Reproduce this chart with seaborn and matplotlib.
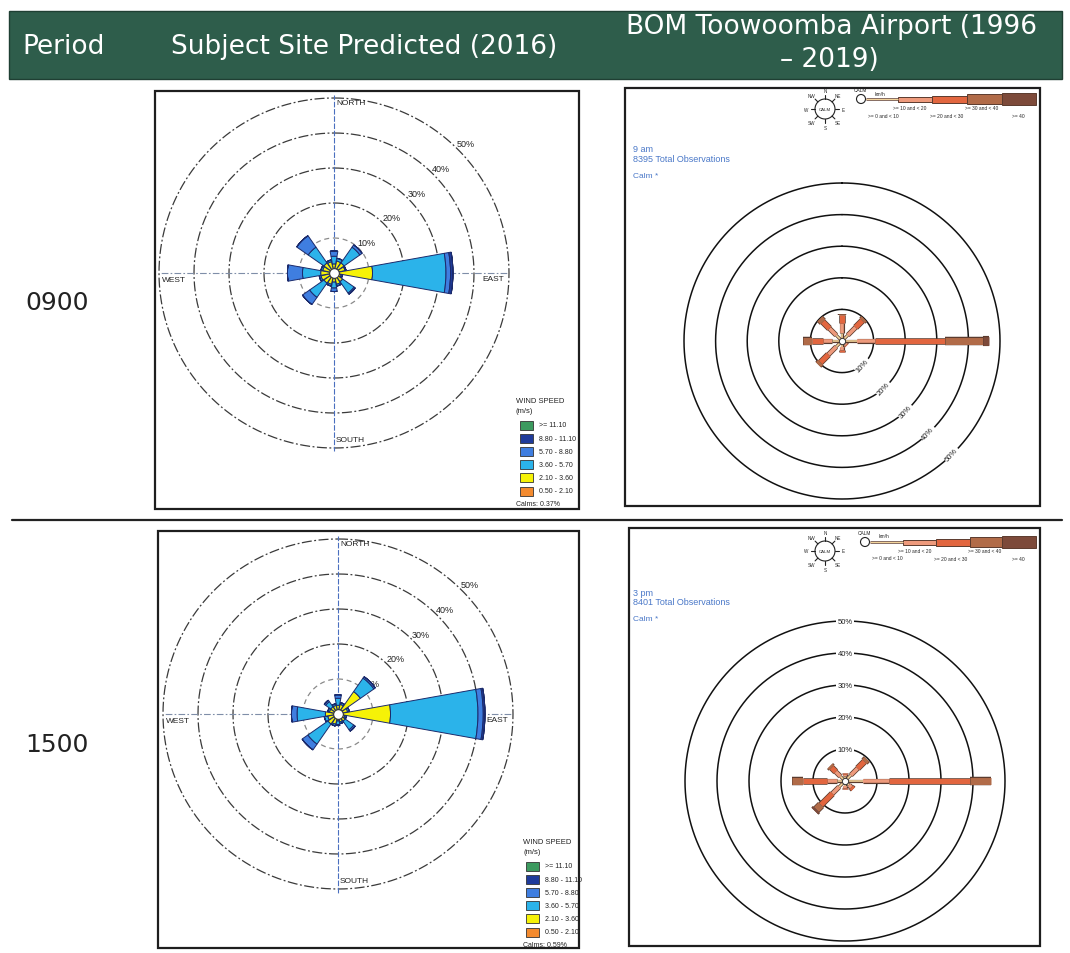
import numpy as np
import pandas as pd
import matplotlib
matplotlib.use('Agg')
import matplotlib.pyplot as plt
import matplotlib.patheffects as pe
from matplotlib.patches import Rectangle, Circle
import seaborn as sns

# ---------------- data ----------------
dirs16 = ['N', 'NNE', 'NE', 'ENE', 'E', 'ESE', 'SE', 'SSE',
          'S', 'SSW', 'SW', 'WSW', 'W', 'WNW', 'NW', 'NNW']
site_classes = ['0.50 - 2.10', '2.10 - 3.60', '3.60 - 5.70',
                '5.70 - 8.80', '8.80 - 11.10', '>= 11.10']

# subject site, 0900 (% of time per direction and speed class)
s09_050 = [0.6, 0.5, 0.5, 0.4, 0.5, 0.6, 0.5, 0.5, 0.6, 0.5, 0.5, 0.5, 0.5, 0.5, 0.5, 0.5]
s09_210 = [2.0, 3.0, 3.0, 2.8, 10.5, 1.5, 2.5, 2.8, 2.0, 2.8, 3.0, 3.3, 3.3, 2.8, 3.0, 2.8]
s09_360 = [2.2, 0.8, 5.5, 0.3, 21.0, 0.4, 4.0, 0.5, 1.7, 0.5, 5.0, 0.5, 5.2, 0.5, 5.5, 0.5]
s09_570 = [1.5, 0.0, 0.8, 0.0, 1.3, 0.0, 0.4, 0.0, 1.0, 0.0, 2.5, 0.0, 4.3, 0.0, 4.0, 0.0]
s09_880 = [0.0, 0.0, 0.0, 0.0, 0.7, 0.0, 0.0, 0.0, 0.0, 0.0, 0.0, 0.0, 0.0, 0.0, 0.0, 0.0]
s09_111 = [0.0] * 16

# subject site, 1500
s15_050 = [0.5, 0.5, 0.5, 0.5, 0.5, 0.5, 0.5, 0.5, 0.5, 0.5, 0.5, 0.5, 0.5, 0.5, 0.5, 0.5]
s15_210 = [2.0, 2.3, 7.3, 2.3, 14.5, 1.5, 2.0, 1.8, 1.5, 2.5, 3.0, 2.5, 3.1, 2.0, 2.0, 2.0]
s15_360 = [2.0, 0.5, 4.7, 0.5, 25.0, 0.5, 3.0, 0.5, 1.0, 0.5, 7.0, 1.0, 8.1, 0.5, 1.8, 0.5]
s15_570 = [1.0, 0.0, 0.5, 0.0, 1.5, 0.0, 0.5, 0.0, 0.3, 0.0, 2.0, 0.0, 1.6, 0.0, 0.5, 0.0]
s15_880 = [0.0, 0.0, 0.0, 0.0, 0.5, 0.0, 0.0, 0.0, 0.0, 0.0, 0.0, 0.0, 0.0, 0.0, 0.0, 0.0]
s15_111 = [0.0] * 16

calms_09 = 0.37
calms_15 = 0.59

dirs8 = ['N', 'NE', 'E', 'SE', 'S', 'SW', 'W', 'NW']
bom_classes = ['>= 0 and < 10', '>= 10 and < 20', '>= 20 and < 30',
               '>= 30 and < 40', '>= 40']

# BOM Toowoomba Airport, 9 am
b09_c0 = [2.0, 2.0, 4.0, 0.8, 1.2, 2.0, 2.5, 2.0]
b09_c1 = [3.0, 3.5, 6.0, 0.5, 1.0, 3.5, 3.0, 3.0]
b09_c2 = [2.5, 3.0, 22.0, 0.2, 0.6, 3.5, 3.5, 3.0]
b09_c3 = [0.4, 0.8, 12.0, 0.0, 0.2, 1.0, 2.6, 1.3]
b09_c4 = [0.0, 0.0, 2.0, 0.0, 0.0, 0.0, 0.0, 0.0]

# BOM Toowoomba Airport, 3 pm
b15_c0 = [1.0, 2.0, 5.0, 1.2, 1.0, 2.0, 2.0, 1.5]
b15_c1 = [0.7, 3.0, 8.0, 1.0, 0.6, 3.0, 3.0, 2.0]
b15_c2 = [0.3, 3.0, 25.5, 0.8, 0.4, 5.0, 7.5, 1.8]
b15_c3 = [0.0, 1.0, 6.5, 0.0, 0.0, 2.0, 3.5, 0.7]
b15_c4 = [0.0, 0.0, 0.0, 0.0, 0.0, 0.7, 0.0, 0.0]

rings = [10, 20, 30, 40, 50]

# ---------------- style ----------------
sns.set_theme(style='white')
plt.rcParams['font.family'] = ['DejaVu Sans']
SMALL = ['Liberation Sans', 'DejaVu Sans']

site_colors = ['#f38a2e', '#f6f207', '#2bb3ea', '#3f7ee0', '#1f3b9a', '#3c9a5f']
bom_colors = ['#f3d49b', '#ee9a7c', '#e2663f', '#b16b48', '#7d4a3a']
bom_widths = [1.2, 2.6, 3.6, 5.0, 6.2]

W, H = 1070, 954
fig = plt.figure(figsize=(W / 100, H / 100), dpi=100)

bg = fig.add_axes([0, 0, 1, 1])
bg.set_xlim(0, W)
bg.set_ylim(H, 0)
bg.axis('off')

# header band
bg.add_patch(Rectangle((9, 12), 1053, 68, facecolor='#2e5d4b', edgecolor='#1f3f33', lw=1))
bg.text(22, 47, 'Period', color='white', fontsize=19, va='center', ha='left')
bg.text(364, 47, 'Subject Site Predicted (2016)', color='white', fontsize=19, va='center', ha='center')
bg.text(831, 27, 'BOM Toowoomba Airport (1996', color='white', fontsize=19, va='center', ha='center')
bg.text(829, 60, '\u2013 2019)', color='white', fontsize=19, va='center', ha='center')

bg.text(25, 303, '0900', fontsize=18, va='center', ha='left', color='#222222')
bg.text(25, 745, '1500', fontsize=18, va='center', ha='left', color='#222222')
bg.plot([12, 1062], [521, 521], color='#222222', lw=1.6)

# panel frames
for x0, y0, x1, y1 in [(155, 92, 579, 510), (158, 532, 579, 949),
                       (625, 89, 1040, 507), (629, 529, 1040, 947)]:
    bg.add_patch(Rectangle((x0, y0), x1 - x0, y1 - y0, fill=False, edgecolor='#1e1e1e', lw=1.6))


def polar_at(cx, cy, px_per_10):
    rmax = 55
    rad = px_per_10 * rmax / 10
    ax = fig.add_axes([(cx - rad) / W, 1 - (cy + rad) / H, 2 * rad / W, 2 * rad / H],
                      projection='polar')
    ax.set_theta_zero_location('N')
    ax.set_theta_direction(-1)
    ax.set_ylim(0, rmax)
    ax.set_axis_off()
    return ax


theta_ring = np.linspace(0, 2 * np.pi, 721)


def site_rose(cx, cy, cols):
    ax = polar_at(cx, cy, 35)
    df = pd.DataFrame(dict(zip(site_classes, cols)), index=dirs16)
    # rings
    for r in rings:
        if r == 10:
            ax.plot(theta_ring, np.full_like(theta_ring, r), color='#8a8a8a', lw=0.9,
                    ls=(0, (4, 3)))
        else:
            ax.plot(theta_ring, np.full_like(theta_ring, r), color='#3a3a3a', lw=0.9,
                    ls=(0, (8, 2, 1.5, 2)))
        ax.annotate(f'{r}%', xy=(np.deg2rad(45), r), xytext=(5.8, 4), textcoords='offset points',
                    ha='center', va='center', fontsize=6.5, family=SMALL, color='#222222')
    # cross lines
    for th in [0, np.pi]:
        ax.plot([th, th], [0, 51], color='#4a6fbf', lw=0.8, ls=(0, (5, 1.5)))
    for th in [np.pi / 2, 3 * np.pi / 2]:
        ax.plot([th, th], [0, 50], color='#7f8ea8', lw=0.8, ls=(0, (6, 2, 1.5, 2)))
    kw = dict(textcoords='offset points', fontsize=6, family=SMALL, color='#222222')
    ax.annotate('NORTH', xy=(0, 48.6), xytext=(1.5, 0), ha='left', va='center', **kw)
    ax.annotate('SOUTH', xy=(np.pi, 47.6), xytext=(1.5, 0), ha='left', va='center', **kw)
    ax.annotate('EAST', xy=(np.pi / 2, 48.7), xytext=(0, -4.2), ha='right', va='center', **kw)
    ax.annotate('WEST', xy=(3 * np.pi / 2, 49.2), xytext=(0, -4.8), ha='left', va='center', **kw)
    # petals
    theta = np.deg2rad(np.arange(16) * 22.5)
    bottom = np.zeros(16)
    for cls, col in zip(site_classes, site_colors):
        vals = df[cls].to_numpy()
        ax.bar(theta, vals, width=np.deg2rad(22.5) * 0.9, bottom=bottom, color=col,
               edgecolor='#1b2a6b', lw=0.7, zorder=3)
        bottom += vals
    ax.plot(0, 0, 'o', ms=7, mfc='white', mec='#333333', mew=0.8, zorder=5)
    return ax


def bom_rose(cx, cy, px_per_10, cols, label_mode):
    ax = polar_at(cx, cy, px_per_10)
    df = pd.DataFrame(dict(zip(bom_classes, cols)), index=dirs8)
    for r in rings:
        ax.plot(theta_ring, np.full_like(theta_ring, r), color='#111111', lw=1.1)
        if label_mode == 'diag':
            ax.text(np.deg2rad(141 - 0.1 * r), r, f'{r}%', rotation=48, ha='center', va='center',
                    fontsize=5.5, family=SMALL, color='#222222',
                    bbox=dict(boxstyle='square,pad=0.15', fc='white', ec='none'))
        else:
            ax.text(0, r, f'{r}%', ha='center', va='center', fontsize=5.5, family=SMALL,
                    color='#222222', bbox=dict(boxstyle='square,pad=0.25', fc='white', ec='none'))
    theta = np.deg2rad(np.arange(8) * 45)
    for th, d in zip(theta, dirs8):
        r0 = 0.6
        for cls, col, lw in zip(bom_classes, bom_colors, bom_widths):
            v = df.loc[d, cls]
            if v <= 0:
                continue
            ax.plot([th, th], [r0, r0 + v], color=col, lw=lw, solid_capstyle='butt', zorder=3,
                    path_effects=[pe.Stroke(linewidth=lw + 1.1, foreground='#5b3b2e'), pe.Normal()])
            r0 += v
    ax.plot(0, 0, 'o', ms=4.5, mfc='white', mec='#333333', mew=0.7, zorder=5)
    return ax


site_rose(334, 274, [s09_050, s09_210, s09_360, s09_570, s09_880, s09_111])
site_rose(338, 715, [s15_050, s15_210, s15_360, s15_570, s15_880, s15_111])
bom_rose(842, 342, 31.6, [b09_c0, b09_c1, b09_c2, b09_c3, b09_c4], 'diag')
bom_rose(845, 782, 32.0, [b15_c0, b15_c1, b15_c2, b15_c3, b15_c4], 'top')


# ---------------- legends ----------------
def site_legend(x, y, box_x, text_x, calms):
    bg.text(x, y, 'WIND SPEED', fontsize=5.5, family=SMALL, va='center', color='#222222')
    bg.text(x, y + 10, '(m/s)', fontsize=5.5, family=SMALL, va='center', color='#222222')
    labels = site_classes[::-1]
    colors = site_colors[::-1]
    for i, (lab, col) in enumerate(zip(labels, colors)):
        yy = y + 24 + i * 13.2
        bg.add_patch(Rectangle((box_x, yy - 4.5), 13, 9, facecolor=col, edgecolor='#333333', lw=0.6))
        bg.text(text_x, yy, lab, fontsize=5, family=SMALL, va='center', color='#222222')
    bg.text(x, y + 24 + 6 * 13.2 - 1, f'Calms: {calms:.2f}%', fontsize=5, family=SMALL,
            va='center', color='#222222')


site_legend(516, 402, 520, 539, calms_09)
site_legend(523, 843, 526, 545, calms_15)


def bom_legend(cx, cy, lx, ly, seg_x, period, nobs, ty):
    blue = '#4a78c8'
    bg.text(633, ty, period, fontsize=6.5, family=SMALL, color=blue, va='center')
    bg.text(633, ty + 9, f'{nobs} Total Observations', fontsize=6.5, family=SMALL, color=blue,
            va='center')
    bg.text(633, ty + 26, 'Calm *', fontsize=6, family=SMALL, color=blue, va='center')
    # compass icon
    bg.add_patch(Circle((cx, cy), 10, fill=False, ec='#222222', lw=0.8))
    bg.text(cx, cy, 'CALM', fontsize=3.2, ha='center', va='center', family=SMALL)
    for k, d in enumerate(dirs8):
        a = np.deg2rad(k * 45)
        sx, sy = np.sin(a), -np.cos(a)
        bg.plot([cx + 10 * sx, cx + 14 * sx], [cy + 10 * sy, cy + 14 * sy], color='#222222', lw=0.8)
        bg.text(cx + 18.5 * sx, cy + 18.5 * sy, d, fontsize=3.3, ha='center', va='center',
                family=SMALL)
    # speed bar
    bg.add_patch(Circle((lx, ly), 4.5, fill=False, ec='#222222', lw=0.8))
    bg.text(lx - 1, ly - 9, 'CALM', fontsize=3.5, ha='center', va='center', family=SMALL)
    bg.text(lx + 19, ly - 6, 'km/h', fontsize=3.5, ha='center', va='center', family=SMALL)
    bg.plot([lx + 4.5, seg_x[0]], [ly, ly], color='#5b3b2e', lw=1.8, solid_capstyle='butt')
    bg.plot([lx + 4.5, seg_x[0]], [ly, ly], color=bom_colors[0], lw=0.8, solid_capstyle='butt')
    heights = [5, 7, 10, 12]
    for k in range(4):
        bg.add_patch(Rectangle((seg_x[k], ly - heights[k] / 2), seg_x[k + 1] - seg_x[k], heights[k],
                               facecolor=bom_colors[k + 1], edgecolor='#5b3b2e', lw=0.7))
    pos = [(lx + 22, ly + 16), (seg_x[0] + 12, ly + 9), (seg_x[1] + 15, ly + 17),
           (seg_x[2] + 15, ly + 9), (seg_x[3] + 16, ly + 17)]
    for lab, (px, py) in zip(bom_classes, pos):
        bg.text(px, py, lab, fontsize=3.5, ha='center', va='center', family=SMALL)


bom_legend(825, 110, 861, 100, [898, 932, 967, 1002, 1036], '9 am', 8395, 150)
bom_legend(825, 552, 865, 543, [903, 936, 970, 1002, 1036], '3 pm', 8401, 594)

fig.savefig('out.png', dpi=100)
